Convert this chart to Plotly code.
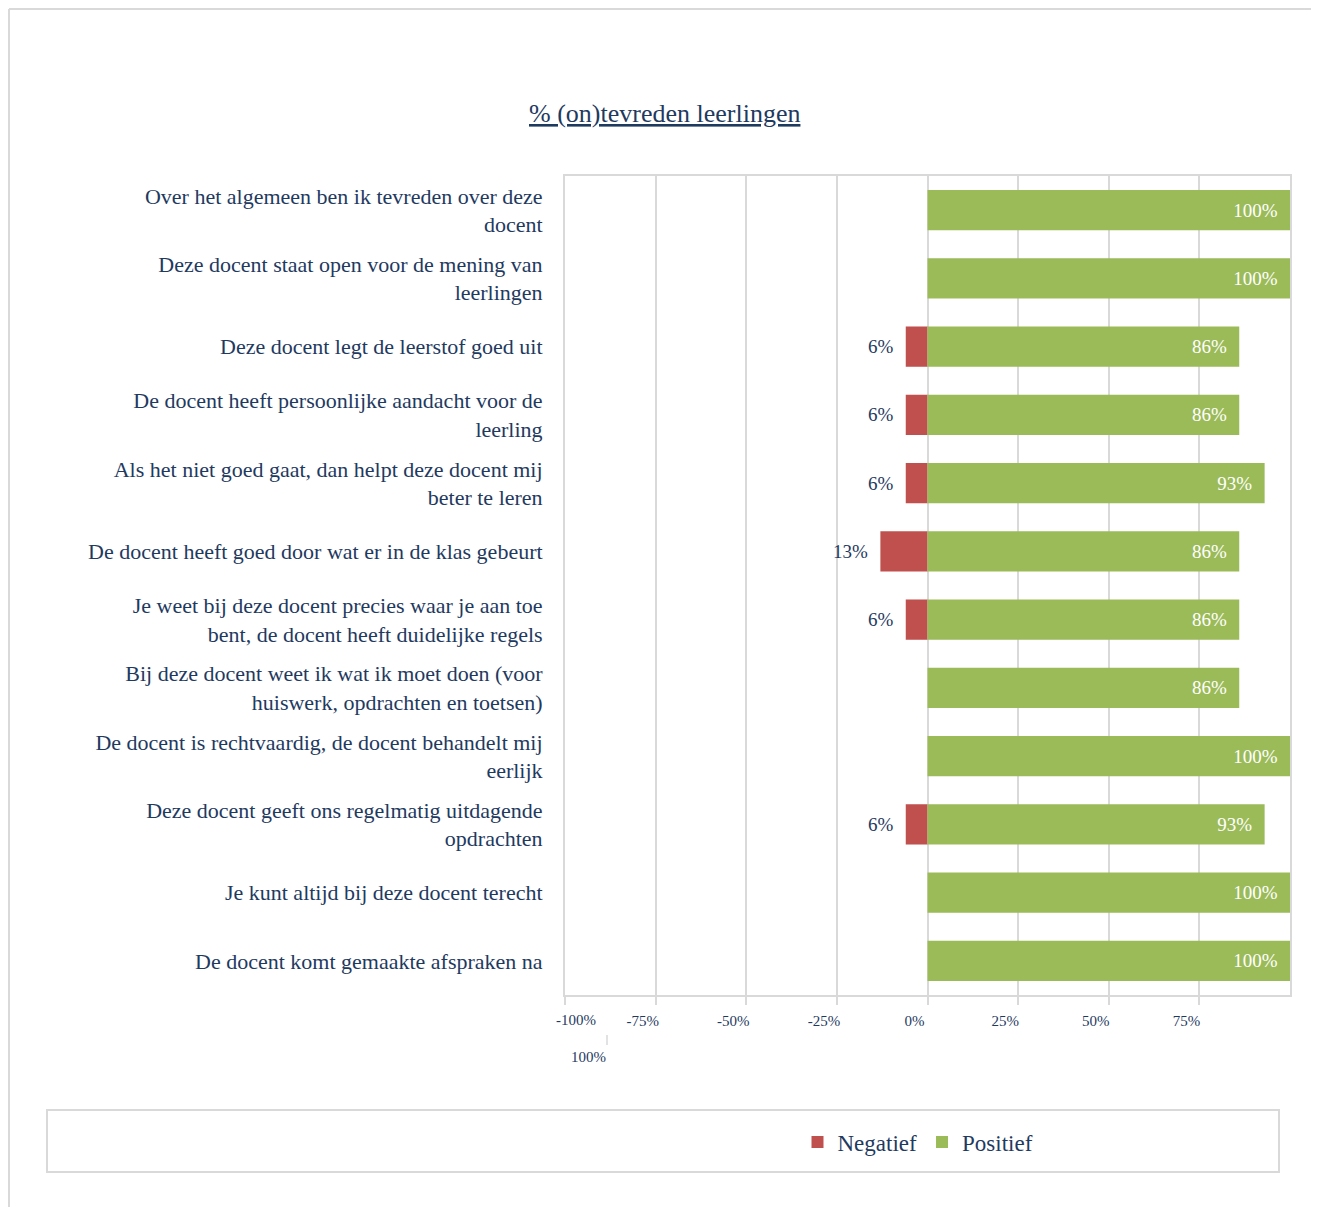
import plotly.graph_objects as go

categories = [
    "Over het algemeen ben ik tevreden over deze<br>docent",
    "Deze docent staat open voor de mening van<br>leerlingen",
    "Deze docent legt de leerstof goed uit",
    "De docent heeft persoonlijke aandacht voor de<br>leerling",
    "Als het niet goed gaat, dan helpt deze docent mij<br>beter te leren",
    "De docent heeft goed door wat er in de klas gebeurt",
    "Je weet bij deze docent precies waar je aan toe<br>bent, de docent heeft duidelijke regels",
    "Bij deze docent weet ik wat ik moet doen (voor<br>huiswerk, opdrachten en toetsen)",
    "De docent is rechtvaardig, de docent behandelt mij<br>eerlijk",
    "Deze docent geeft ons regelmatig uitdagende<br>opdrachten",
    "Je kunt altijd bij deze docent terecht",
    "De docent komt gemaakte afspraken na",
]
negatief = [0, 0, 6, 6, 6, 13, 6, 0, 0, 6, 0, 0]
positief = [100, 100, 86, 86, 93, 86, 86, 86, 100, 93, 100, 100]
tick_vals = [-1.0, -0.75, -0.5, -0.25, 0.0, 0.25, 0.5, 0.75]
tick_text = ["", "-75%", "-50%", "-25%", "0%", "25%", "50%", "75%"]
first_tick_label = "-100%"
wrapped_tick_label = "100%"

NAVY = "#1F3A5F"
GRID = "#D9D9D9"
FONT = "Liberation Serif"

OFF = 8  # page body margin
W, H = 1319 - OFF, 1207 - OFF
L, R, T, B = 565 - OFF, 1290 - OFF, 176 - OFF, 995 - OFF
def px(x):
    return (x - OFF - L) / (R - L)
def py(y):
    return (B - (y - OFF)) / (B - T)

neg_text = [f"{v}%\u00a0\u00a0" if v else "" for v in negatief]
pos_text = [f"{v}%\u00a0\u00a0" for v in positief]

fig = go.Figure()
fig.add_trace(go.Bar(
    name="Negatief", y=categories, x=[-v / 100 for v in negatief], orientation="h",
    marker=dict(color="#C0504D", line=dict(width=0)),
    text=neg_text, textposition="outside", cliponaxis=False, constraintext="none",
    outsidetextfont=dict(family=FONT, size=19, color=NAVY),
    hoverinfo="skip",
))
fig.add_trace(go.Bar(
    name="Positief", y=categories, x=[v / 100 for v in positief], orientation="h",
    marker=dict(color="#9BBB59", line=dict(width=0)),
    text=pos_text, textposition="inside", insidetextanchor="end", constraintext="none",
    insidetextfont=dict(family=FONT, size=19, color="white"),
    hoverinfo="skip",
))

shapes = [
    dict(type="line", xref="paper", yref="paper", x0=px(OFF + 1), x1=px(1330), y0=py(9), y1=py(9),
         line=dict(color=GRID, width=2)),
    dict(type="line", xref="paper", yref="paper", x0=px(OFF + 1), x1=px(OFF + 1), y0=py(9), y1=py(1220),
         line=dict(color=GRID, width=2)),
    dict(type="rect", xref="paper", yref="paper", x0=px(47), x1=px(1279), y0=py(1110), y1=py(1172),
         line=dict(color=GRID, width=2)),
    dict(type="line", xref="paper", yref="paper", x0=px(607), x1=px(607), y0=py(1035), y1=py(1045),
         line=dict(color=GRID, width=1.5)),
]

annotations = [
    dict(text="<u>% (on)tevreden leerlingen</u>", xref="paper", yref="paper", x=px(664), y=py(113),
         showarrow=False, font=dict(family=FONT, size=26, color=NAVY), xanchor="center", yanchor="middle"),
    dict(text=first_tick_label, xref="paper", yref="paper", x=px(576), y=py(1020),
         showarrow=False, font=dict(family=FONT, size=15, color=NAVY), xanchor="center", yanchor="middle"),
    dict(text=wrapped_tick_label, xref="paper", yref="paper", x=px(588), y=py(1057),
         showarrow=False, font=dict(family=FONT, size=15, color=NAVY), xanchor="center", yanchor="middle"),
]

fig.update_layout(
    width=W, height=H,
    margin=dict(l=L, r=W - R, t=T, b=H - B, pad=0),
    paper_bgcolor="white", plot_bgcolor="white",
    barmode="relative", bargap=0.41,
    showlegend=True,
    legend=dict(orientation="h", x=px(918), y=py(1142), xanchor="center", yanchor="middle",
                font=dict(family=FONT, size=23, color=NAVY), traceorder="normal",
                itemwidth=30, bgcolor="rgba(0,0,0,0)"),
    shapes=shapes, annotations=annotations,
    font=dict(family=FONT, color=NAVY),
    xaxis=dict(range=[-1, 1], tickvals=tick_vals, ticktext=tick_text,
               showgrid=True, gridcolor=GRID, gridwidth=1.5, zeroline=False,
               showline=True, linecolor=GRID, linewidth=2, mirror=True,
               ticks="outside", ticklen=8, tickcolor=GRID, tickwidth=1.5,
               ticklabelshift=-13, ticklabelstandoff=3,
               tickfont=dict(family=FONT, size=15, color=NAVY), fixedrange=True),
    yaxis=dict(autorange="reversed", showgrid=False, zeroline=False,
               showline=True, linecolor=GRID, linewidth=2, mirror=True,
               ticks="", ticklabelstandoff=16,
               tickfont=dict(family=FONT, size=22, color=NAVY), fixedrange=True),
)

fig.write_html("out.html")
